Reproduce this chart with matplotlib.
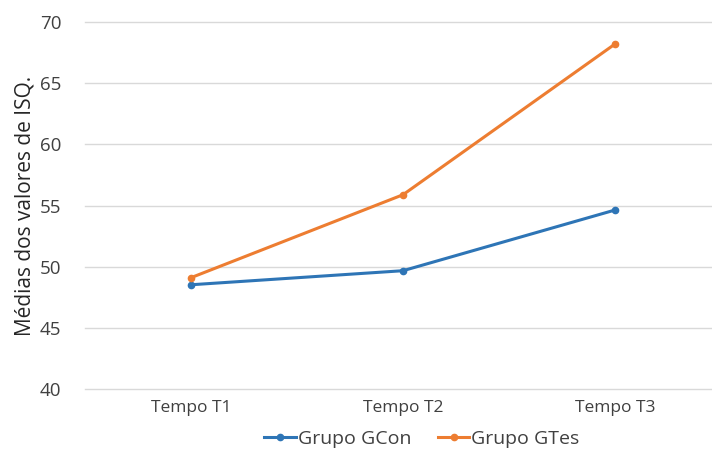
import matplotlib
matplotlib.use("Agg")
import matplotlib.pyplot as plt

categories = ["Tempo T1", "Tempo T2", "Tempo T3"]
gcon = [48.52, 49.67, 54.63]
gtes = [49.10, 55.88, 68.20]
series_names = ["Grupo GCon", "Grupo GTes"]

plt.rcParams['font.family'] = ['Open Sans', 'DejaVu Sans']
txt = "#404040"

fig = plt.figure(figsize=(7.12, 4.54), dpi=100)
ax = fig.add_axes([85/712, 65/454, 636/712, 367/454])

x = range(len(categories))
ax.plot(x, gcon, color="#2E75B6", lw=2.2, marker="o", ms=4.5, label=series_names[0])
ax.plot(x, gtes, color="#ED7D31", lw=2.2, marker="o", ms=4.5, label=series_names[1])

ax.set_xlim(-0.5, 2.5)
ax.set_ylim(40, 70)
ax.set_yticks(range(40, 71, 5))
ax.set_xticks(list(x))
ax.set_xticklabels(categories)
ax.grid(axis="y", color="#D9D9D9", lw=1)
for gl in ax.get_ygridlines():
    gl.set_clip_on(False)
ax.set_axisbelow(True)
for s in ax.spines.values():
    s.set_visible(False)
ax.tick_params(length=0, colors=txt, pad=8)
ax.tick_params(axis="x", labelsize=12.5)
ax.tick_params(axis="y", labelsize=13.5, pad=17)
ax.set_ylabel("Médias dos valores de ISQ.", fontsize=15, color="#262626", labelpad=3)

fig.legend(loc="center", bbox_to_anchor=(422/712, 15/454), ncol=2, frameon=False,
           fontsize=14, labelcolor=txt, handlelength=1.6, handletextpad=0.1,
           columnspacing=1.4)

fig.savefig("out.png", dpi=100)
